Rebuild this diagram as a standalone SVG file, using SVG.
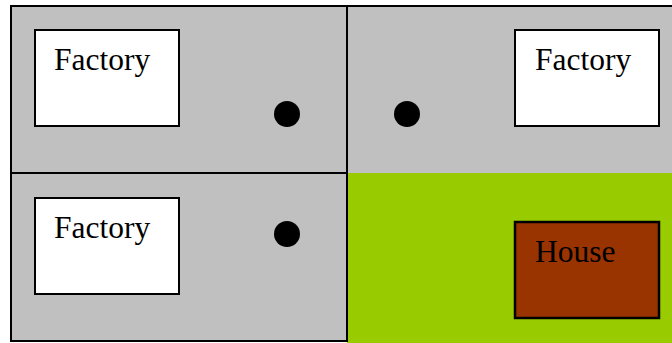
<svg xmlns="http://www.w3.org/2000/svg" width="672" height="343" viewBox="0 0 672 343">
  <style>
    .cell { fill: #C0C0C0; stroke: none; }
    .border { stroke: #000; stroke-width: 2; fill: none; }
    .factory { fill: #FFFFFF; stroke: #000; stroke-width: 2; }
    .house { fill: #993300; stroke: #000; stroke-width: 2.5; }
    .label { font-family: "Liberation Serif", "Times New Roman", serif; font-size: 31.5px; fill: #000; }
    .dot { fill: #000; }
  </style>
  <rect x="0" y="0" width="672" height="343" fill="#FFFFFF"/>
  <g id="cells">
    <rect class="cell" x="11" y="6" width="661" height="167"/>
    <rect class="cell" x="11" y="173" width="336" height="168"/>
    <rect x="347" y="173" width="325" height="170" fill="#99CC00"/>
  </g>
  <g id="grid">
    <line class="border" x1="10" y1="6" x2="672" y2="6"/>
    <line class="border" x1="11" y1="5" x2="11" y2="342"/>
    <line class="border" x1="10" y1="173" x2="348" y2="173"/>
    <line class="border" x1="347" y1="5" x2="347" y2="342"/>
    <line class="border" x1="10" y1="341" x2="348" y2="341"/>
  </g>
  <g id="factory1">
    <rect class="factory" x="35" y="30" width="144" height="96"/>
    <text class="label" x="54" y="70">Factory</text>
  </g>
  <g id="factory2">
    <rect class="factory" x="515" y="30" width="144" height="96"/>
    <text class="label" x="535" y="70">Factory</text>
  </g>
  <g id="factory3">
    <rect class="factory" x="35" y="198" width="144" height="96"/>
    <text class="label" x="54" y="238">Factory</text>
  </g>
  <g id="house">
    <rect class="house" x="515" y="222" width="144" height="96"/>
    <text class="label" x="535" y="262">House</text>
  </g>
  <g id="dot1"><circle class="dot" cx="287" cy="114" r="13"/></g>
  <g id="dot2"><circle class="dot" cx="407" cy="114" r="13"/></g>
  <g id="dot3"><circle class="dot" cx="287" cy="234" r="13"/></g>
  <g id="connectors"></g>
</svg>
